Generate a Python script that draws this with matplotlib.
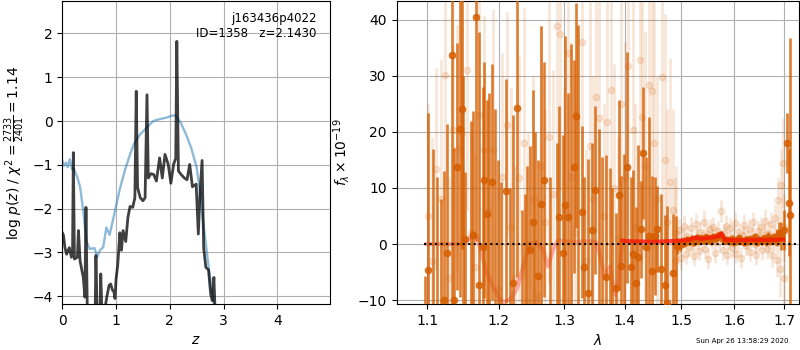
import matplotlib
matplotlib.use('Agg')
import matplotlib.pyplot as plt
from matplotlib.ticker import FixedLocator, NullLocator, FormatStrFormatter
import numpy as np

# ---- redshift fit summary
root = 'j163436p4022'
obj_id = 1358
z_best = 2.1430
chi2_min = 2733
dof = 2401

# log p(z) from the chi2 grid (dark) and the smoothed prior-weighted pdf (blue)
z_grid = [0.0, 0.02, 0.05, 0.08, 0.13, 0.17, 0.19, 0.205, 0.225, 0.28, 0.30, 0.33,
          0.39, 0.42, 0.44, 0.465, 0.55, 0.61, 0.625, 0.65, 0.70, 0.715, 0.74, 0.79,
          0.83, 0.87, 0.90, 0.93, 0.96, 0.98, 1.0, 1.03, 1.07, 1.10, 1.13, 1.18, 1.22,
          1.26, 1.31, 1.35, 1.375, 1.40, 1.45, 1.50, 1.54, 1.575, 1.60, 1.65, 1.70,
          1.75, 1.81, 1.86, 1.91, 1.97, 2.02, 2.07, 2.11, 2.13, 2.16, 2.21, 2.27, 2.32,
          2.37, 2.42, 2.49, 2.53, 2.56, 2.60, 2.63, 2.67, 2.72, 2.76, 2.79, 2.82, 2.85]
logp_grid = [-2.55, -2.6, -2.9, -3.04, -2.89, -3.11, -3.04, -0.72, -3.15, -3.11, -2.5, -3.19,
             -3.57, -4.02, -1.97, -4.4, -4.5, -4.5, -3.07, -4.5, -4.5, -3.49, -4.5, -4.3,
             -4.0, -3.75, -3.72, -3.85, -3.9, -4.05, -3.6, -3.3, -2.55, -2.95, -2.5, -2.75, -2.2,
             -1.95, -1.97, -1.75, 0.68, -1.52, -1.75, -1.82, -1.75, 0.6, -1.3, -1.2, -1.22,
             -1.37, -0.84, -1.3, -0.76, -0.99, -1.42, -0.99, -0.85, 1.82, -1.14, -1.22, -1.3, -1.34,
             -0.99, -1.5, -1.44, -2.58, -1.7, -0.9, -2.9, -3.34, -3.4, -3.95, -4.1, -3.57, -4.6]

z_smooth = [0.0, 0.03, 0.07, 0.10, 0.14, 0.18, 0.22, 0.28, 0.33, 0.39, 0.45, 0.51, 0.60,
            0.65, 0.70, 0.76, 0.82, 0.88, 0.98, 1.07, 1.17, 1.26, 1.33, 1.45, 1.57, 1.69,
            1.80, 1.94, 2.03, 2.10, 2.20, 2.30, 2.40, 2.50, 2.56, 2.62, 2.68, 2.74, 2.79, 2.83]
logp_smooth = [-0.91, -1.02, -0.95, -1.05, -0.87, -1.1, -1.1, -1.29, -1.5, -2.05, -2.75, -2.92,
               -2.9, -3.1, -2.95, -2.88, -2.43, -2.6, -2.05, -1.55, -1.1, -0.76, -0.53, -0.3,
               -0.15, 0.0, 0.04, 0.08, 0.12, 0.13, -0.03, -0.3, -0.62, -1.06, -1.6, -2.3,
               -2.9, -3.5, -3.95, -4.3]

# ---- G141 spectrum, binned
wave_bin = [1.0969, 1.1005, 1.1073, 1.1135, 1.1181, 1.1227, 1.1264, 1.1341, 1.1365, 1.1402,
            1.1448, 1.1471, 1.1494, 1.1518, 1.1598, 1.1627, 1.1673, 1.1720, 1.1769, 1.1792,
            1.1826, 1.1864, 1.1908, 1.1947, 1.1987, 1.2030, 1.2108, 1.2168, 1.2216, 1.2276,
            1.2341, 1.2391, 1.2417, 1.2466, 1.2512, 1.2538, 1.2594, 1.2635, 1.2681, 1.2774,
            1.2880, 1.2921, 1.2985, 1.3011, 1.3064, 1.3106, 1.3160, 1.3192, 1.3224, 1.3279,
            1.3321, 1.3376, 1.3442, 1.3495, 1.3567, 1.3615, 1.3677, 1.3744, 1.3789, 1.3856,
            1.3899, 1.3941, 1.3984, 1.4043, 1.4100, 1.4139, 1.4185, 1.4225, 1.4284, 1.4311,
            1.4358, 1.4416, 1.4464, 1.4517, 1.4558, 1.4637, 1.4695, 1.4744, 1.4845, 1.4894,
            1.4920, 1.4965, 1.5010, 1.5055, 1.5100, 1.5145, 1.5190, 1.5235, 1.5280, 1.5325,
            1.5370, 1.5415, 1.5460, 1.5505, 1.5550, 1.5595, 1.5640, 1.5685, 1.5730, 1.5775,
            1.5820, 1.5865, 1.5910, 1.5955, 1.6000, 1.6045, 1.6090, 1.6135, 1.6180, 1.6225,
            1.6270, 1.6315, 1.6360, 1.6405, 1.6450, 1.6495, 1.6540, 1.6585, 1.6630, 1.6675,
            1.6720, 1.6765, 1.6810, 1.6855, 1.6900, 1.6945, 1.6990, 1.7060, 1.7100, 1.7130]
flux_bin = [-20.0, -4.6, -14.0, -14.0, -14.0, -10.0, -1.6, 33.7, -9.9, 13.8,
            20.5, 24.1, -14.0, 0.9, -14.0, 1.7, 40.5, -7.3, -0.5, 11.4,
            5.3, -14.0, 11.1, -14.0, -14.0, -14.0, 9.5, -14.0, -7.0, 24.2,
            -14.0, -14.0, -14.0, -1.1, 4.0, -14.0, -5.7, 7.1, 11.5, -14.0,
            -14.0, 4.8, -1.5, 7.0, 4.9, -14.0, 13.8, 22.9, -14.0, 5.7,
            -4.0, -8.8, 2.5, 9.6, -14.0, -14.0, -5.8, -14.0, -14.0, -7.9,
            8.75, -3.9, -14.0, 13.7, -4.0, -1.7, -7.0, -2.3, 2.6, 16.2,
            -0.6, 1.4, -4.8, 1.4, 2.7, -4.5, -7.2, -10.5, -5.1, -14.0,
            -0.4, -0.2, 0.3, 0.2, 0.8, 0.5, 0.9, 0.3, 1.1, 0.6,
            1.0, 0.7, 1.2, 0.8, 0.6, 1.3, 1.0, 1.5, 1.7, 0.9,
            0.6, 0.8, 0.5, 0.9, 0.4, 0.7, 1.0, 0.6, 0.3, 0.8,
            0.5, 0.9, 0.7, 1.2, 0.4, 0.8, 0.6, 1.0, 0.5, 1.3,
            0.7, 1.1, 0.9, 1.2, 2.0, 1.5, 2.5, 18.0, 7.4, 5.2]
err_bin = [14.3, 28.0, 31.0, 26.0, 22.0, 23.0, 23.0, 45.0, 27.0, 22.0,
           30.0, 25.0, 44.0, 12.0, 36.0, 22.0, 40.0, 45.0, 28.5, 21.0,
           20.4, 41.0, 21.0, 38.0, 29.0, 25.0, 20.0, 24.0, 30.0, 30.0,
           20.0, 23.0, 28.0, 18.5, 23.5, 34.0, 20.6, 31.8, 21.0, 26.0,
           32.0, 19.8, 21.0, 30.0, 22.0, 49.7, 19.0, 20.0, 53.0, 15.3,
           16.0, 24.0, 15.5, 15.0, 34.5, 29.5, 21.6, 27.5, 24.0, 13.5,
           17.0, 16.0, 30.0, 20.6, 16.0, 14.9, 13.6, 20.0, 8.6, 11.8,
           16.2, 21.2, 17.0, 10.5, 7.7, 13.5, 12.3, 17.3, 10.5, 19.0,
           1.4, 1.0, 0.8, 0.7, 0.7, 0.6, 0.7, 0.6, 0.7, 0.6,
           0.6, 0.7, 0.6, 0.6, 0.7, 0.6, 0.6, 0.7, 0.6, 0.6,
           0.6, 0.6, 0.7, 0.6, 0.6, 0.6, 0.7, 0.6, 0.6, 0.6,
           0.7, 0.6, 0.6, 0.7, 0.6, 0.7, 0.7, 0.7, 0.8, 0.8,
           0.8, 0.9, 1.0, 1.5, 2.0, 2.5, 3.5, 5.3, 9.5, 31.5]

# ---- G141 spectrum, native pixels
wave_pix = [1.1010, 1.1070, 1.1120, 1.1180, 1.1245, 1.1300, 1.1355, 1.1410, 1.1480, 1.1540,
            1.1600, 1.1660, 1.1720, 1.1790, 1.1850, 1.1920, 1.1990, 1.2050, 1.2120, 1.2180,
            1.2250, 1.2310, 1.2380, 1.2440, 1.2510, 1.2570, 1.2630, 1.2700, 1.2760, 1.2830,
            1.2880, 1.2930, 1.2990, 1.3060, 1.3106, 1.3180, 1.3290, 1.3350, 1.3410, 1.3460,
            1.3520, 1.3570, 1.3640, 1.3700, 1.3760, 1.3820, 1.3880, 1.3930, 1.4000, 1.4060,
            1.4140, 1.4180, 1.4260, 1.4300, 1.4340, 1.4420, 1.4470, 1.4500, 1.4560, 1.4640,
            1.4700, 1.4740, 1.4800, 1.4840, 1.4880, 1.4900,
            1.493, 1.496, 1.499, 1.502, 1.505, 1.508, 1.511, 1.514, 1.517, 1.520,
            1.523, 1.526, 1.529, 1.532, 1.535, 1.538, 1.541, 1.544, 1.547, 1.550,
            1.553, 1.556, 1.559, 1.562, 1.565, 1.568, 1.571, 1.574, 1.577, 1.580,
            1.583, 1.586, 1.589, 1.592, 1.595, 1.598, 1.601, 1.604, 1.607, 1.610,
            1.613, 1.616, 1.619, 1.622, 1.625, 1.628, 1.631, 1.634, 1.637, 1.640,
            1.643, 1.646, 1.649, 1.652, 1.655, 1.658, 1.661, 1.664, 1.667, 1.670,
            1.673, 1.676, 1.679, 1.682, 1.685, 1.688, 1.691, 1.694, 1.697, 1.699, 1.7005]
flux_pix = [5.0, -3.0, 13.4, 8.0, 30.2, -6.0, 20.4, 17.0, 19.8, 31.0,
            2.0, -4.0, 23.0, 16.8, 6.0, 16.8, -8.0, 12.0, 21.3, 3.0,
            -6.0, 11.7, 18.0, 0.0, 8.0, -9.0, 14.0, 4.0, 19.0, 9.0,
            38.8, 37.4, 6.0, 34.0, 12.0, 2.0, 36.0, -3.0, 17.5, 8.0,
            26.2, 22.4, 5.0, 21.8, 27.5, 10.0, 1.0, 25.0, 12.0, 31.7,
            20.4, 3.0, 32.8, 22.6, 14.0, 28.4, 27.2, 18.0, 8.0, 29.8,
            15.0, 4.0, 11.1, 6.0, -3.0, 2.0,
            -1.0, 2.5, -2.5, 0.8, 3.2, -1.8, 1.5, -0.5, 2.8, 0.2,
            -2.2, 3.5, 1.0, -1.2, 2.2, 0.5, 4.0, -0.8, 1.8, -2.6,
            2.6, 0.9, 3.0, -1.5, 1.4, 2.4, 0.3, 5.9, -1.0, 1.9,
            3.3, -2.0, 0.6, 2.9, -0.7, 1.2, 3.8, -1.7, 0.4, 2.1,
            -2.4, 1.6, 3.4, -0.3, 0.9, 2.7, -1.4, 1.3, 3.9, 0.1,
            -2.0, 2.3, 0.7, 3.1, -1.1, 1.7, 4.2, -0.9, 2.0, 0.4,
            3.6, -1.9, 1.1, 4.6, -2.8, 7.8, -4.5, 10.5, 14.4, -6.0, 3.0]
err_pix = [20, 22, 18, 25, 20, 18, 15, 22, 20, 25,
           18, 20, 22, 24, 20, 25, 18, 22, 20, 25,
           20, 22, 24, 20, 22, 18, 25, 20, 26, 22,
           30, 28, 22, 30, 24, 22, 30, 20, 28, 22,
           24, 26, 20, 25, 28, 22, 18, 28, 24, 30,
           28, 22, 30, 26, 24, 30, 28, 26, 22, 30,
           26, 20, 22, 18, 15, 12,
           2.5, 2.0, 2.2, 1.8, 2.0, 1.8, 1.9, 1.7, 2.0, 1.8,
           1.7, 2.0, 1.8, 1.7, 1.9, 1.8, 2.0, 1.7, 1.8, 1.9,
           1.8, 1.7, 1.9, 1.8, 1.7, 1.8, 1.7, 2.0, 1.8, 1.7,
           1.9, 1.8, 1.7, 1.8, 1.7, 1.8, 1.9, 1.7, 1.8, 1.7,
           1.8, 1.7, 1.9, 1.8, 1.7, 1.8, 1.7, 1.8, 1.9, 1.7,
           1.8, 1.9, 1.7, 1.8, 1.8, 1.9, 2.0, 1.8, 1.9, 2.0,
           2.1, 2.2, 2.3, 2.6, 3.0, 4.0, 5.0, 6.5, 8.0, 7.0, 6.0]

# ---- best-fit model
wave_model = [1.0992, 1.1494, 1.1583, 1.1650, 1.1696, 1.1826, 1.1972, 1.2070, 1.2195, 1.2270,
              1.2390, 1.2466, 1.2568, 1.2669, 1.2746, 1.2824, 1.2901, 1.2985, 1.3147, 1.3414,
              1.3523, 1.3605, 1.3660, 1.3744, 1.3828, 1.3884, 1.3958, 1.4083, 1.4500, 1.4973,
              1.5154, 1.5277, 1.5350, 1.5466, 1.5591, 1.5687, 1.5752, 1.5815, 1.6000, 1.6500,
              1.6981]
flux_model = [0.0, 0.0, 1.0, 1.9, 1.0, -5.0, -9.0, -10.5, -9.5, -8.0,
              -3.0, 0.0, 0.3, -1.0, -4.0, -1.0, 0.7, 0.5, 0.4, 0.5,
              0.3, -3.0, -6.0, -4.0, -9.0, -7.0, 0.6, 0.5, 0.4, 0.6,
              0.8, 1.2, 0.9, 1.1, 1.2, 1.4, 1.9, 0.8, 0.7, 0.75,
              0.8]

G141_COLOR = (0.8352941176470589, 0.3686274509803922, 0.0)

fig = plt.figure(figsize=(8, 3.5), dpi=100)

# p(z)
ax = fig.add_axes([0.0779, 0.131, 0.3346, 0.866])
ax.plot(z_smooth, logp_smooth, color='tab:blue', alpha=0.5, lw=1.7)
ax.plot(z_grid, logp_grid, color='k', alpha=0.75, lw=2)
ax.set_xlim(0, 4.98)
ax.set_ylim(-4.18, 2.74)
ax.set_xticks([0, 1, 2, 3, 4])
ax.set_xlabel(r'$z$')
ax.set_ylabel(r'log $p(z)$' + ' / ' +
              r'$\chi^2=\frac{{{0}}}{{{1}}}={2:.2f}$'.format(chi2_min, dof, chi2_min / dof))
ax.text(0.95, 0.965, '{0}\nID={1}   z={2:.4f}'.format(root, obj_id, z_best),
        ha='right', va='top', transform=ax.transAxes, fontsize=8.5)
ax.grid()

# spectrum
ax = fig.add_axes([0.4958, 0.131, 0.5027, 0.866])
wave_model = np.array(wave_model)
flux_model = np.array(flux_model)

ax.errorbar(wave_pix, flux_pix, err_pix, marker='o', linestyle='None', color=G141_COLOR,
            alpha=0.15, ms=4.5, lw=2, zorder=2)
ax.plot(wave_model, flux_model, color='r', alpha=0.3, lw=3, zorder=3)
ax.errorbar(wave_bin, flux_bin, err_bin, marker='o', linestyle='None', color=G141_COLOR,
            alpha=0.8, ms=4.5, lw=1.9, zorder=4)
clean = wave_model > 1.39
ax.plot(wave_model[clean], flux_model[clean], color='r', alpha=0.6, lw=3, zorder=5)
ax.plot([1.095, 1.725], [0, 0], color='k', linestyle=':', lw=1.5, zorder=6)

ax.set_xscale('log')
ax.xaxis.set_major_locator(FixedLocator([1.1, 1.2, 1.3, 1.4, 1.5, 1.6, 1.7]))
ax.xaxis.set_minor_locator(NullLocator())
ax.xaxis.set_major_formatter(FormatStrFormatter('%.1f'))
ax.set_xlim(1.0597, 1.7308)
ax.set_ylim(-10.7, 43.3)
ax.set_xlabel(r'$\lambda$')
ax.set_ylabel(r'$f_\lambda\times10^{-19}$')
ax.grid()

fig.text(0.985, 0.018, 'Sun Apr 26 13:58:29 2020', ha='right', va='bottom', fontsize=5)

fig.savefig('out.png', dpi=100)
